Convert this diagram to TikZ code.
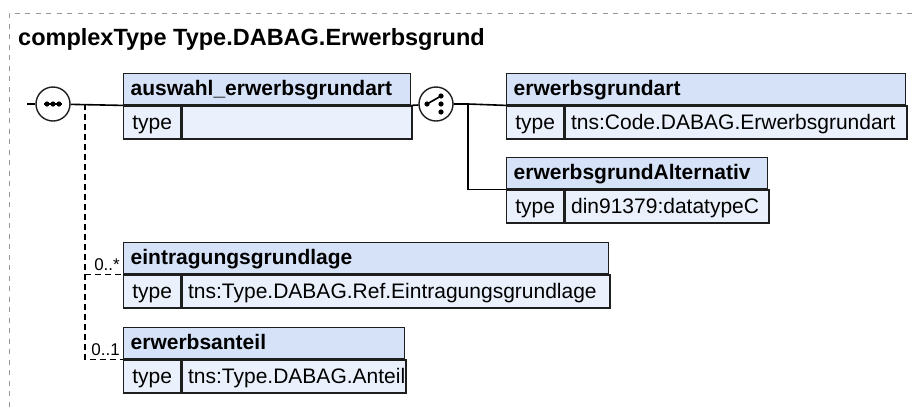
\documentclass[tikz,border=0pt]{standalone}
\usepackage{fontspec}
\setmainfont{Liberation Sans}
\usetikzlibrary{positioning,calc}
\usepackage{xcolor}
\definecolor{xsgrey}{RGB}{150,150,150}
\definecolor{xsdark}{RGB}{30,30,30}
\definecolor{xshead}{RGB}{214,226,248}
\definecolor{xsrow}{RGB}{234,241,252}
\hyphenpenalty=10000
\tikzset{
    elhead/.style={
        draw=xsdark,line width=1.4pt,fill=xshead,anchor=north west,
        minimum width=#1,text width=#1-14pt,minimum height=31pt,
        inner xsep=7pt,inner ysep=0pt,align=left,
        text height=16pt,text depth=4pt,
        font=\fontsize{21}{25}\selectfont\bfseries
    },
    eltype/.style={
        draw=xsdark,line width=1.4pt,fill=xsrow,anchor=north west,
        minimum width=57pt,minimum height=33pt,inner sep=0pt,
        text height=17pt,text depth=4pt,
        font=\fontsize{21}{25}\selectfont
    },
    elval/.style={
        draw=xsdark,line width=1.4pt,fill=xsrow,anchor=north west,
        minimum width=#1,text width=#1-12pt,minimum height=33pt,
        inner xsep=6pt,inner ysep=0pt,align=left,
        text height=17pt,text depth=4pt,
        font=\fontsize{21}{25}\selectfont
    },
    compositor/.style={
        circle,draw=xsdark,line width=1.4pt,fill=white,
        minimum size=34pt,inner sep=0pt
    },
    conn/.style={line width=1.6pt,draw=black},
    optconn/.style={conn,dash pattern=on 6pt off 4pt},
    mult/.style={
        anchor=base east,inner sep=0pt,font=\fontsize{17}{20}\selectfont
    }
}

\begin{document}
\begin{tikzpicture}[x=1pt,y=-1pt]
\useasboundingbox (0,0) rectangle (912,408);

% frame of the complex type
\draw[xsgrey,line width=1pt,dash pattern=on 5pt off 5.5pt]
(912,13) -- (9,13) -- (9,408);

\node[anchor=base west,inner sep=0pt,
font=\fontsize{23.5}{28}\selectfont\bfseries]
(title) at (18,45) {complexType Type.DABAG.Erwerbsgrund};

% sequence
\coordinate (entry) at (27,104);
\node[compositor] (seq) at (53,104) {};
\draw[conn] ([xshift=-9pt]seq.center) -- ([xshift=9pt]seq.center);
\foreach \dx in {-6,0,6}
    \fill ([xshift=\dx pt]seq.center) circle (2.6pt);

\node[elhead=287pt] (auswahl) at (123,73) {auswahl\_erwerbsgrundart};
\node[eltype] (auswahltype) at (auswahl.south west) {type};
\node[elval=230pt] (auswahlval) at (auswahltype.north east) {};

% choice
\node[compositor] (choice) at (436,104) {};
\fill ([xshift=-9pt]choice.center) circle (2.6pt);
\draw[conn] ([xshift=-9pt]choice.center) -- ([xshift=5pt,yshift=8pt]choice.center);
\foreach \dy in {-8,0,8}
    \fill ([xshift=5pt,yshift=\dy pt]choice.center) circle (2.6pt);

\node[elhead=399pt] (grundart) at (506,73) {erwerbsgrundart};
\node[eltype] (grundarttype) at (grundart.south west) {type};
\node[elval=342pt] (grundartval) at (grundarttype.north east)
{tns:Code.DABAG.Erwerbsgrundart};

\node[elhead=261pt] (alternativ) at (506,157) {erwerbsgrundAlternativ};
\node[eltype] (alternativtype) at (alternativ.south west) {type};
\node[elval=204pt] (alternativval) at (alternativtype.north east)
{din91379:datatypeC};

\node[elhead=485pt] (eintragung) at (123,242) {eintragungsgrundlage};
\node[eltype] (eintragungtype) at (eintragung.south west) {type};
\node[elval=428pt] (eintragungval) at (eintragungtype.north east)
{tns:Type.DABAG.Ref.Eintragungsgrundlage};

\node[elhead=281pt] (anteil) at (123,327) {erwerbsanteil};
\node[eltype] (anteiltype) at (anteil.south west) {type};
\node[elval=224pt] (anteilval) at (anteiltype.north east)
{tns:Type.DABAG.Anteil};

% connectors
\draw[conn] (entry) -- (seq);
\draw[conn] (seq) -- (auswahl.south west);
\draw[conn] (auswahl.south east) -- (choice);
\coordinate (fork) at (468,104);
\draw[conn] (choice) -- (fork) -- (grundart.south west);
\draw[conn] (fork) |- (alternativ.south west);
\coordinate (opt) at (85,104);
\draw[optconn] (opt) |- (anteil.south west);
\draw[optconn] (opt |- eintragung.south west) -- (eintragung.south west);

\node[mult] (eintragungmult) at ([xshift=-3pt,yshift=4pt]eintragung.south west) {0..*};
\node[mult] (anteilmult) at ([xshift=-3pt,yshift=4pt]anteil.south west) {0..1};

\end{tikzpicture}
\end{document}
